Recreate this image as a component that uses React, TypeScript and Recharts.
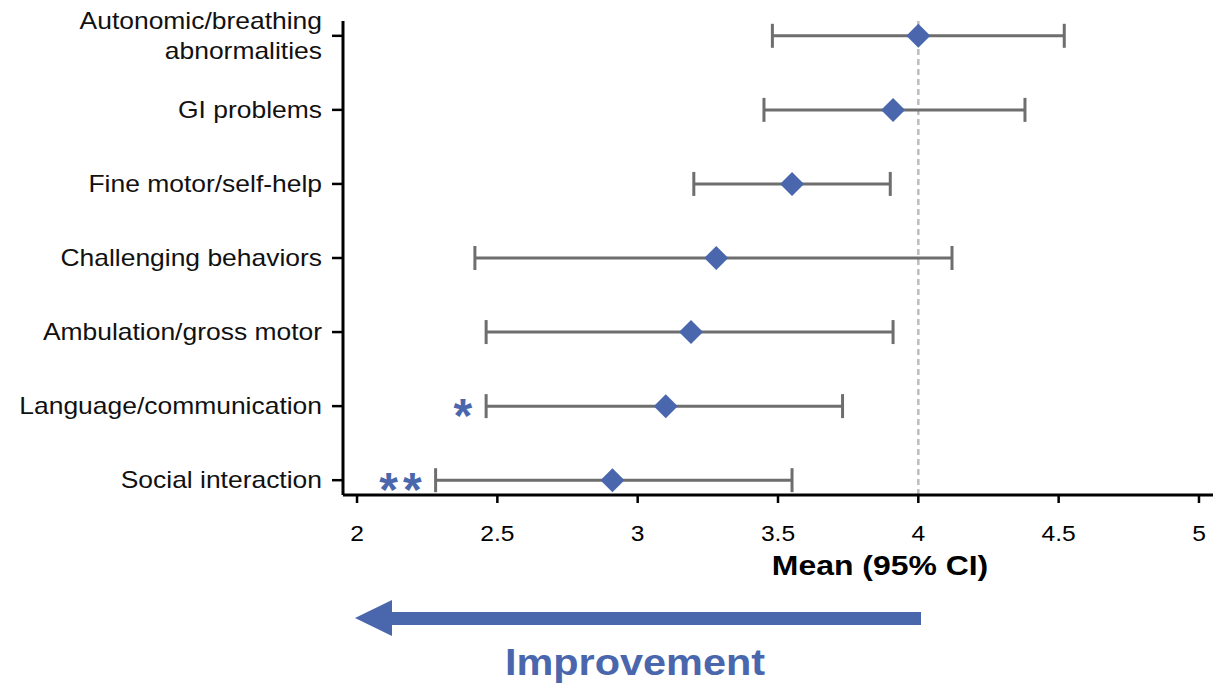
import {
  ScatterChart,
  Scatter,
  XAxis,
  YAxis,
  ErrorBar,
  ReferenceLine,
} from 'recharts';

// Domínios avaliados, de cima para baixo
const domains = [
  'Autonomic/breathing\nabnormalities',
  'GI problems',
  'Fine motor/self-help',
  'Challenging behaviors',
  'Ambulation/gross motor',
  'Language/communication',
  'Social interaction',
];
const means = [4.0, 3.91, 3.55, 3.28, 3.19, 3.1, 2.91];
const lowerCI = [3.48, 3.45, 3.2, 2.42, 2.46, 2.46, 2.28];
const upperCI = [4.52, 4.38, 3.9, 4.12, 3.91, 3.73, 3.55];
const significance = ['', '', '', '', '', '*', '**'];
const xTicks = [2, 2.5, 3, 3.5, 4, 4.5, 5];

const BLUE = '#4a67ad';
const GREY = '#6e6e6e';
const FONT = 'Liberation Sans, Arial, sans-serif';
const X_DOMAIN = [1.95, 5.05];

const rowCount = domains.length;
const rows = domains.map((name, i) => ({
  name,
  row: rowCount - 1 - i,
  mean: means[i],
  lower: lowerCI[i],
  err: [means[i] - lowerCI[i], upperCI[i] - means[i]],
  sig: significance[i],
}));
const sigRows = rows.filter((r) => r.sig !== '');

const Diamond = (props: any) => {
  const { cx, cy } = props;
  const r = 12;
  return (
    <polygon
      points={`${cx},${cy - r} ${cx + r},${cy} ${cx},${cy + r} ${cx - r},${cy}`}
      fill={BLUE}
    />
  );
};

// asteriscos de significância, à esquerda do IC
const SigMark = (props: any) => {
  const { cx, cy, payload } = props;
  return (
    <text
      x={cx - 9}
      y={cy + 26}
      textAnchor="end"
      fontSize={48}
      fontWeight="bold"
      fill={BLUE}
      fontFamily={FONT}
      letterSpacing={5}
    >
      {payload.sig}
    </text>
  );
};

const YTick = (props: any) => {
  const { x, y, payload } = props;
  const idx = rowCount - 1 - payload.value;
  const lines = (domains[idx] || '').split('\n');
  return (
    <g transform={`translate(${x},${y}) scale(1.15,1)`}>
      <text x={0} y={0} textAnchor="end" fontSize={23} fill="#111" fontFamily={FONT}>
        {lines.map((line, i) => (
          <tspan key={i} x={0} y={(i - (lines.length - 1) / 2) * 30} dy="0.36em">
            {line}
          </tspan>
        ))}
      </text>
    </g>
  );
};

const XTick = (props: any) => {
  const { x, y, payload } = props;
  return (
    <g transform={`translate(${x},${y}) scale(1.12,1)`}>
      <text x={0} y={2} dy="0.71em" textAnchor="middle" fontSize={22} fill="#000" fontFamily={FONT}>
        {payload.value}
      </text>
    </g>
  );
};

export default function App() {
  return (
    <div
      style={{
        position: 'absolute',
        left: 0,
        top: 0,
        width: 1228,
        height: 688,
        background: '#fff',
        fontFamily: FONT,
      }}
    >
      <ScatterChart width={1228} height={560} margin={{ top: 21, right: 15, bottom: 20, left: 0 }}>
        <XAxis
          type="number"
          dataKey="mean"
          domain={X_DOMAIN}
          ticks={xTicks}
          height={45}
          tickSize={8}
          tickMargin={20}
          axisLine={{ stroke: '#000', strokeWidth: 3 }}
          tickLine={{ stroke: '#000', strokeWidth: 2.5 }}
          tick={<XTick />}
        />
        <XAxis xAxisId="sig" type="number" dataKey="lower" domain={X_DOMAIN} hide />
        <YAxis
          type="number"
          dataKey="row"
          domain={[-0.2, rowCount - 0.8]}
          ticks={rows.map((r) => r.row)}
          width={343}
          tickSize={11}
          tickMargin={10}
          axisLine={{ stroke: '#000', strokeWidth: 3 }}
          tickLine={{ stroke: '#000', strokeWidth: 2.5 }}
          tick={<YTick />}
          interval={0}
        />
        <ReferenceLine x={4} stroke="#bdbdbd" strokeWidth={2.5} strokeDasharray="6 4" />
        <Scatter data={rows} shape={<Diamond />} isAnimationActive={false}>
          <ErrorBar dataKey="err" direction="x" width={12} stroke={GREY} strokeWidth={3} />
        </Scatter>
        <Scatter xAxisId="sig" data={sigRows} shape={<SigMark />} isAnimationActive={false} />
      </ScatterChart>
      <div
        style={{
          position: 'absolute',
          left: 680,
          width: 400,
          top: 550,
          textAlign: 'center',
          fontSize: 28,
          fontWeight: 'bold',
          color: '#000',
          transform: 'scaleX(1.14)',
        }}
      >
        Mean (95% CI)
      </div>
      <svg style={{ position: 'absolute', left: 0, top: 590 }} width={1228} height={50}>
        <rect x={388} y={22} width={533} height={13} fill={BLUE} />
        <polygon points="355,28 392,10 392,46" fill={BLUE} />
      </svg>
      <div
        style={{
          position: 'absolute',
          left: 435,
          width: 400,
          top: 642,
          textAlign: 'center',
          fontSize: 36,
          fontWeight: 'bold',
          color: BLUE,
          transform: 'scaleX(1.15)',
        }}
      >
        Improvement
      </div>
    </div>
  );
}
